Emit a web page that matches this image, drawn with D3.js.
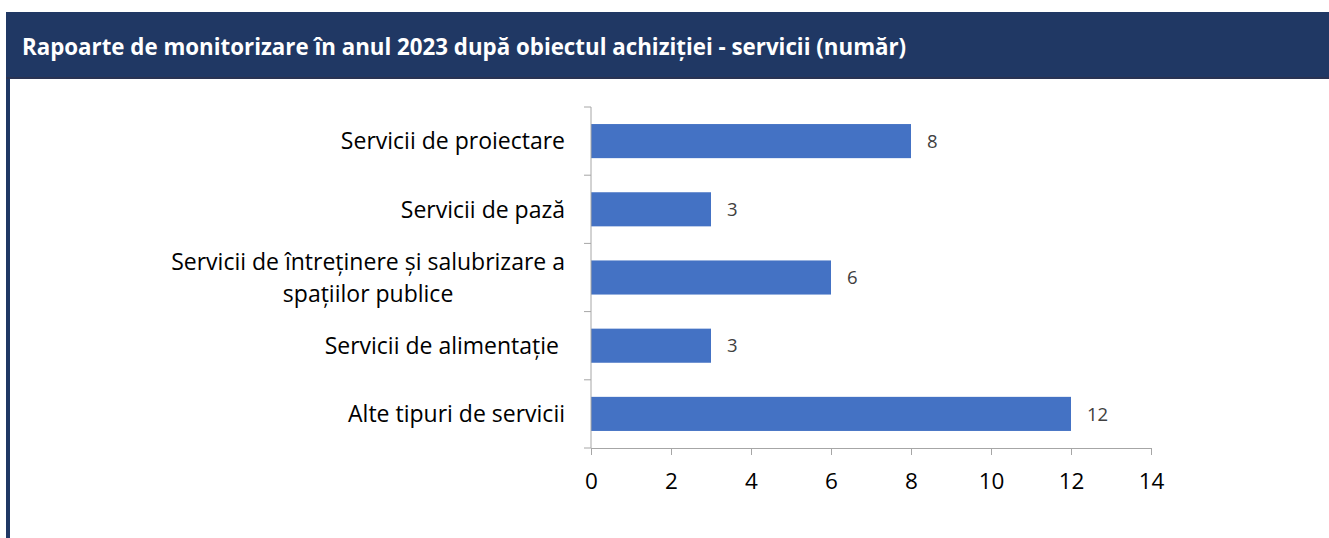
<!DOCTYPE html>
<html>
<head>
<meta charset="utf-8">
<script src="https://cdn.jsdelivr.net/npm/d3@7"></script>
<style>
  body { margin: 0; background: #fff; }
  svg { display: block; }
  .cat { white-space: pre; }
</style>
</head>
<body>
<svg id="chart" width="1329" height="538"></svg>
<script>
// data
const categories = [
  ["Servicii de proiectare"],
  ["Servicii de pază"],
  ["Servicii de întreținere și salubrizare a", "spațiilor publice"],
  ["Servicii de alimentație "],
  ["Alte tipuri de servicii"]
];
const values = [8, 3, 6, 3, 12];
const xTicks = [0, 2, 4, 6, 8, 10, 12, 14];
const title = "Rapoarte de monitorizare în anul 2023 după obiectul achiziției - servicii (număr)";

const svg = d3.select("#chart");
const font = "'Open Sans', sans-serif";

// header band + left border
svg.append("rect").attr("x", 6).attr("y", 12).attr("width", 1323).attr("height", 67).attr("fill", "#203864");
svg.append("rect").attr("x", 6).attr("y", 77).attr("width", 1323).attr("height", 2).attr("fill", "#2a3352");
svg.append("rect").attr("x", 6).attr("y", 79).attr("width", 4).attr("height", 459).attr("fill", "#203864");
svg.append("text")
  .attr("x", 22).attr("y", 55)
  .attr("fill", "#fff")
  .attr("font-family", font)
  .attr("font-weight", "bold")
  .attr("font-size", 22.3)
  .text(title);

// scales
const x = d3.scaleLinear().domain([0, 14]).range([591, 1151]);
const y = d3.scaleBand().domain(d3.range(categories.length)).range([107, 448]).paddingInner(0.5).paddingOuter(0.25);
const yEdges = d3.scaleLinear().domain([0, categories.length]).range([107, 448]);

// bars
svg.selectAll(".bar")
  .data(values)
  .enter()
  .append("rect")
  .attr("class", "bar")
  .attr("x", x(0))
  .attr("y", (d, i) => y(i))
  .attr("width", d => x(d) - x(0))
  .attr("height", y.bandwidth())
  .attr("fill", "#4472C4");

// value labels
svg.selectAll(".val")
  .data(values)
  .enter()
  .append("text")
  .attr("x", d => x(d) + 16)
  .attr("y", (d, i) => y(i) + y.bandwidth() / 2)
  .attr("dy", "0.36em")
  .attr("font-family", font)
  .attr("font-size", 18.5)
  .attr("fill", "#404040")
  .text(d => d);

// x axis
const xAxis = svg.append("g")
  .attr("transform", "translate(0,448)")
  .call(d3.axisBottom(x).tickValues(xTicks).tickSize(7).tickPadding(18).tickSizeOuter(0));
xAxis.select(".domain").attr("stroke", "#a6a6a6");
xAxis.selectAll(".tick line").attr("stroke", "#a6a6a6");
xAxis.selectAll("text").attr("font-family", font).attr("font-size", 22.5).attr("fill", "#000");

// y axis line and ticks at category edges
svg.append("line").attr("x1", 591).attr("x2", 591).attr("y1", 107).attr("y2", 448).attr("stroke", "#a6a6a6");
svg.selectAll(".ytick")
  .data(d3.range(categories.length + 1))
  .enter()
  .append("line")
  .attr("x1", 584).attr("x2", 591)
  .attr("y1", d => yEdges(d)).attr("y2", d => yEdges(d))
  .attr("stroke", "#a6a6a6");

// category labels
categories.forEach((lines, i) => {
  const cy = y(i) + y.bandwidth() / 2;
  const t = svg.append("text")
    .attr("class", "cat")
    .attr("text-anchor", "middle")
    .attr("font-family", font)
    .attr("font-size", 23)
    .attr("fill", "#000");
  const lh = 32;
  lines.forEach((ln, k) => {
    t.append("tspan")
      .attr("x", 0)
      .attr("y", cy + (k - (lines.length - 1) / 2) * lh)
      .attr("dy", "0.36em")
      .text(ln);
  });
  // right edge of the block at x=565, lines centred within it
  const bb = t.node().getBBox();
  t.attr("transform", `translate(${565 - bb.width / 2},0)`);
});
</script>
</body>
</html>
